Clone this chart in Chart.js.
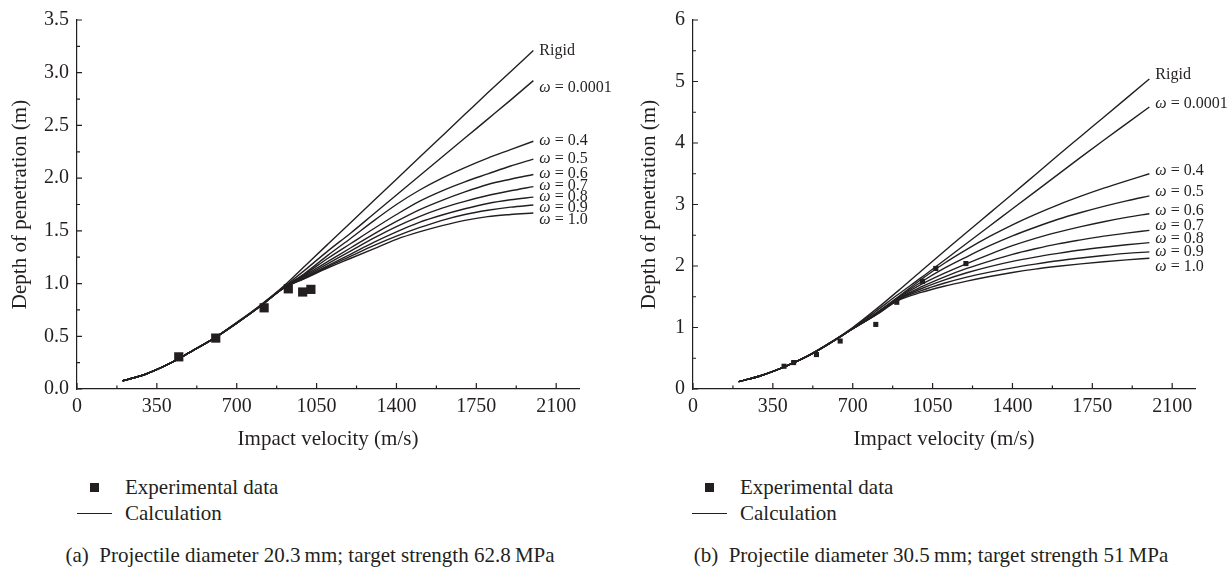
<!DOCTYPE html>
<html>
<head>
<meta charset="utf-8">
<script src="https://cdn.jsdelivr.net/npm/chart.js@4.4.1/dist/chart.umd.min.js"></script>
<style>
  html, body { margin: 0; padding: 0; background: #fff; }
  body { width: 1232px; height: 569px; position: relative; overflow: hidden;
         font-family: "Liberation Serif", "DejaVu Serif", serif; color: #231f20; }
  canvas { position: absolute; top: 0; }
  .txt { position: absolute; font-size: 21px; line-height: 24px; white-space: nowrap; }
  .sq { position: absolute; width: 9px; height: 9px; background: #231f20; }
  .ln { position: absolute; height: 1.4px; background: #231f20; }
  .cap { position: absolute; top: 543px; width: 616px; text-align: center; font-size: 21px; line-height: 24px; }
</style>
</head>
<body>
<canvas id="chartA" width="616" height="460" style="left:0"></canvas>
<canvas id="chartB" width="616" height="460" style="left:616px"></canvas>

<div class="sq" style="left:90px;top:483px"></div>
<div class="txt" style="left:125px;top:475px">Experimental data</div>
<div class="ln" style="left:77px;top:513px;width:35px"></div>
<div class="txt" style="left:125px;top:501px">Calculation</div>
<div class="cap" style="left:2px">(a)&nbsp;&nbsp;Projectile diameter 20.3&#8201;mm; target strength 62.8&#8201;MPa</div>

<div class="sq" style="left:705px;top:483px"></div>
<div class="txt" style="left:740px;top:475px">Experimental data</div>
<div class="ln" style="left:692px;top:513px;width:35px"></div>
<div class="txt" style="left:740px;top:501px">Calculation</div>
<div class="cap" style="left:623px">(b)&nbsp;&nbsp;Projectile diameter 30.5&#8201;mm; target strength 51&#8201;MPa</div>

<script>
// impact velocity (m/s) at which the calculated curves are read
const velocity = [200, 300, 400, 500, 600, 700, 800, 900, 1000, 1100, 1200, 1300, 1400, 1500, 1600, 1700, 1800, 1900, 2000];

// (a) 20.3 mm projectile, 62.8 MPa target -- depth of penetration (m)
const rigidA = [0.078, 0.14, 0.235, 0.355, 0.48, 0.63, 0.79, 0.965, 1.17, 1.375, 1.58, 1.785, 1.99, 2.195, 2.40, 2.605, 2.81, 3.01, 3.21];
const w0001A = [0.078, 0.14, 0.235, 0.355, 0.48, 0.63, 0.785, 0.955, 1.13, 1.31, 1.48, 1.66, 1.84, 2.02, 2.20, 2.38, 2.56, 2.74, 2.925];
const w04A = [0.078, 0.14, 0.235, 0.355, 0.48, 0.625, 0.78, 0.955, 1.10, 1.27, 1.43, 1.595, 1.75, 1.885, 2.00, 2.10, 2.19, 2.27, 2.35];
const w05A = [0.078, 0.14, 0.235, 0.355, 0.48, 0.625, 0.78, 0.955, 1.09, 1.24, 1.38, 1.52, 1.655, 1.78, 1.88, 1.965, 2.04, 2.115, 2.18];
const w06A = [0.078, 0.14, 0.235, 0.355, 0.48, 0.625, 0.78, 0.95, 1.08, 1.21, 1.34, 1.47, 1.59, 1.70, 1.79, 1.87, 1.94, 1.99, 2.035];
const w07A = [0.078, 0.14, 0.235, 0.355, 0.48, 0.625, 0.78, 0.95, 1.07, 1.19, 1.31, 1.43, 1.54, 1.635, 1.715, 1.78, 1.835, 1.88, 1.92];
const w08A = [0.078, 0.14, 0.235, 0.355, 0.48, 0.625, 0.78, 0.95, 1.06, 1.17, 1.28, 1.39, 1.49, 1.58, 1.65, 1.71, 1.76, 1.795, 1.82];
const w09A = [0.078, 0.14, 0.235, 0.355, 0.48, 0.625, 0.78, 0.95, 1.055, 1.16, 1.26, 1.36, 1.45, 1.53, 1.60, 1.655, 1.695, 1.725, 1.745];
const w10A = [0.078, 0.14, 0.235, 0.355, 0.48, 0.625, 0.78, 0.95, 1.05, 1.15, 1.24, 1.33, 1.42, 1.49, 1.55, 1.60, 1.635, 1.655, 1.67];
const expVelA = [446, 608, 820, 926, 989, 1025];
const expDepthA = [0.305, 0.483, 0.77, 0.95, 0.92, 0.945];

// (b) 30.5 mm projectile, 51 MPa target
const rigidB = [0.12, 0.22, 0.36, 0.535, 0.75, 1.0, 1.29, 1.60, 1.92, 2.235, 2.55, 2.86, 3.17, 3.485, 3.80, 4.11, 4.42, 4.73, 5.04];
const w0001B = [0.12, 0.22, 0.36, 0.535, 0.75, 0.99, 1.26, 1.54, 1.81, 2.09, 2.37, 2.65, 2.93, 3.21, 3.49, 3.77, 4.045, 4.315, 4.585];
const w04B = [0.12, 0.22, 0.36, 0.53, 0.745, 0.98, 1.23, 1.50, 1.78, 2.04, 2.27, 2.48, 2.67, 2.84, 2.995, 3.135, 3.265, 3.385, 3.50];
const w05B = [0.12, 0.22, 0.36, 0.53, 0.745, 0.98, 1.22, 1.49, 1.74, 1.96, 2.15, 2.33, 2.49, 2.63, 2.76, 2.87, 2.97, 3.06, 3.14];
const w06B = [0.12, 0.22, 0.36, 0.53, 0.745, 0.98, 1.22, 1.48, 1.70, 1.88, 2.04, 2.19, 2.33, 2.45, 2.55, 2.64, 2.72, 2.79, 2.85];
const w07B = [0.12, 0.22, 0.36, 0.53, 0.745, 0.98, 1.21, 1.47, 1.66, 1.82, 1.96, 2.08, 2.19, 2.28, 2.36, 2.425, 2.485, 2.535, 2.58];
const w08B = [0.12, 0.22, 0.36, 0.53, 0.745, 0.98, 1.21, 1.46, 1.63, 1.77, 1.89, 1.99, 2.075, 2.145, 2.205, 2.26, 2.305, 2.345, 2.38];
const w09B = [0.12, 0.22, 0.36, 0.53, 0.745, 0.98, 1.20, 1.45, 1.60, 1.72, 1.82, 1.90, 1.97, 2.03, 2.085, 2.13, 2.17, 2.205, 2.23];
const w10B = [0.12, 0.22, 0.36, 0.53, 0.745, 0.98, 1.20, 1.44, 1.57, 1.67, 1.755, 1.83, 1.895, 1.95, 1.995, 2.035, 2.07, 2.10, 2.125];
const expVelB = [399, 441, 541, 645, 801, 893, 1006, 1064, 1196];
const expDepthB = [0.37, 0.43, 0.56, 0.78, 1.05, 1.41, 1.75, 1.96, 2.04];

const curveNames = ["Rigid", "ω = 0.0001", "ω = 0.4", "ω = 0.5", "ω = 0.6", "ω = 0.7", "ω = 0.8", "ω = 0.9", "ω = 1.0"];

// axis ticks
const xTicks = [0, 350, 700, 1050, 1400, 1750, 2100];
const xMinor = [175, 525, 875, 1225, 1575, 1925];
const yTicksA = [0, 0.5, 1.0, 1.5, 2.0, 2.5, 3.0, 3.5];
const yMinorA = [0.25, 0.75, 1.25, 1.75, 2.25, 2.75, 3.25];
const yTicksB = [0, 1, 2, 3, 4, 5, 6];
const yMinorB = [0.5, 1.5, 2.5, 3.5, 4.5, 5.5];

const INK = "#231f20";
const SERIF = "'Liberation Serif', 'DejaVu Serif', serif";

function points(xs, ys) {
  return xs.map((x, i) => ({ x: x, y: ys[i] }));
}

// inward tick marks, major and minor
const tickMarks = {
  id: "tickMarks",
  afterDraw(chart, args, opts) {
    const { ctx, chartArea } = chart;
    const xs = chart.scales.x, ys = chart.scales.y;
    ctx.save();
    ctx.strokeStyle = INK;
    ctx.lineWidth = 1.2;
    ctx.beginPath();
    const mark = (px, py, dx, dy) => { ctx.moveTo(px, py); ctx.lineTo(px + dx, py + dy); };
    xTicks.forEach(v => mark(xs.getPixelForValue(v), chartArea.bottom, 0, -6));
    xMinor.forEach(v => mark(xs.getPixelForValue(v), chartArea.bottom, 0, -3.5));
    opts.major.forEach(v => mark(chartArea.left, ys.getPixelForValue(v), 5, 0));
    opts.minor.forEach(v => mark(chartArea.left, ys.getPixelForValue(v), 3, 0));
    ctx.stroke();
    ctx.restore();
  }
};

// name at the end of each calculated curve
const curveLabels = {
  id: "curveLabels",
  afterDatasetsDraw(chart, args, opts) {
    const ctx = chart.ctx;
    ctx.save();
    ctx.fillStyle = INK;
    ctx.textBaseline = "middle";
    curveNames.forEach((name, i) => {
      const meta = chart.getDatasetMeta(i);
      const last = meta.data[meta.data.length - 1];
      let x = last.x + opts.dx;
      const y = last.y + opts.dy[i];
      if (name.startsWith("ω")) {
        ctx.font = "italic 16px " + SERIF;
        ctx.fillText("ω", x, y);
        x += ctx.measureText("ω").width;
        ctx.font = "16px " + SERIF;
        ctx.fillText(name.slice(1), x, y);
      } else {
        ctx.font = "16px " + SERIF;
        ctx.fillText(name, x, y);
      }
    });
    ctx.restore();
  }
};

function buildChart(canvasId, curves, expX, expY, yMax, yMajor, yMinor, yDigits, markRadius, labelDy, yTitlePad) {
  const datasets = curves.map((c, i) => ({
    label: curveNames[i],
    data: points(velocity, c),
    showLine: true,
    borderColor: INK,
    borderWidth: 1.4,
    pointRadius: 0,
    cubicInterpolationMode: "monotone",
    fill: false
  }));
  datasets.push({
    label: "Experimental data",
    data: points(expX, expY),
    showLine: false,
    pointStyle: "rect",
    pointRadius: markRadius,
    backgroundColor: INK,
    borderWidth: 0
  });

  new Chart(document.getElementById(canvasId).getContext("2d"), {
    type: "scatter",
    data: { datasets: datasets },
    options: {
      responsive: false,
      animation: false,
      devicePixelRatio: 1,
      layout: { padding: { top: 15, right: 37, bottom: 0, left: 0 } },
      plugins: {
        legend: { display: false },
        tooltip: { enabled: false },
        tickMarks: { major: yMajor, minor: yMinor },
        curveLabels: { dx: 6, dy: labelDy }
      },
      scales: {
        x: {
          type: "linear",
          min: 0,
          max: 2200,
          afterBuildTicks: s => { s.ticks = xTicks.map(v => ({ value: v })); },
          afterFit: s => { s.height = 71; },
          grid: { display: true, drawOnChartArea: false, drawTicks: false },
          border: { color: INK, width: 1.2 },
          ticks: { color: INK, padding: 6, autoSkip: false, maxRotation: 0,
                   font: { family: SERIF, size: 20 },
                   callback: v => String(v) },
          title: { display: true, text: "Impact velocity (m/s)", color: INK,
                   font: { family: SERIF, size: 21 }, padding: { top: 0, bottom: 8 } }
        },
        y: {
          type: "linear",
          min: 0,
          max: yMax,
          afterBuildTicks: s => { s.ticks = yMajor.map(v => ({ value: v })); },
          afterFit: s => { s.width = 77; },
          grid: { display: true, drawOnChartArea: false, drawTicks: false },
          border: { color: INK, width: 1.2 },
          ticks: { color: INK, padding: 8, autoSkip: false,
                   font: { family: SERIF, size: 20 },
                   callback: v => v.toFixed(yDigits) },
          title: { display: true, text: "Depth of penetration (m)", color: INK,
                   font: { family: SERIF, size: 21 }, padding: { top: yTitlePad, bottom: 0 } }
        }
      }
    },
    plugins: [tickMarks, curveLabels]
  });
}

buildChart("chartA",
  [rigidA, w0001A, w04A, w05A, w06A, w07A, w08A, w09A, w10A],
  expVelA, expDepthA, 3.5, yTicksA, yMinorA, 1, 6.5,
  [0, 7, 0, 0, -1, -1, 0, 3, 6.5], 8);

buildChart("chartB",
  [rigidB, w0001B, w04B, w05B, w06B, w07B, w08B, w09B, w10B],
  expVelB, expDepthB, 6, yTicksB, yMinorB, 0, 3.6,
  [-4, -3, -3, -4, -2.5, -5, -3.5, 0, 8], 21);
</script>
</body>
</html>
